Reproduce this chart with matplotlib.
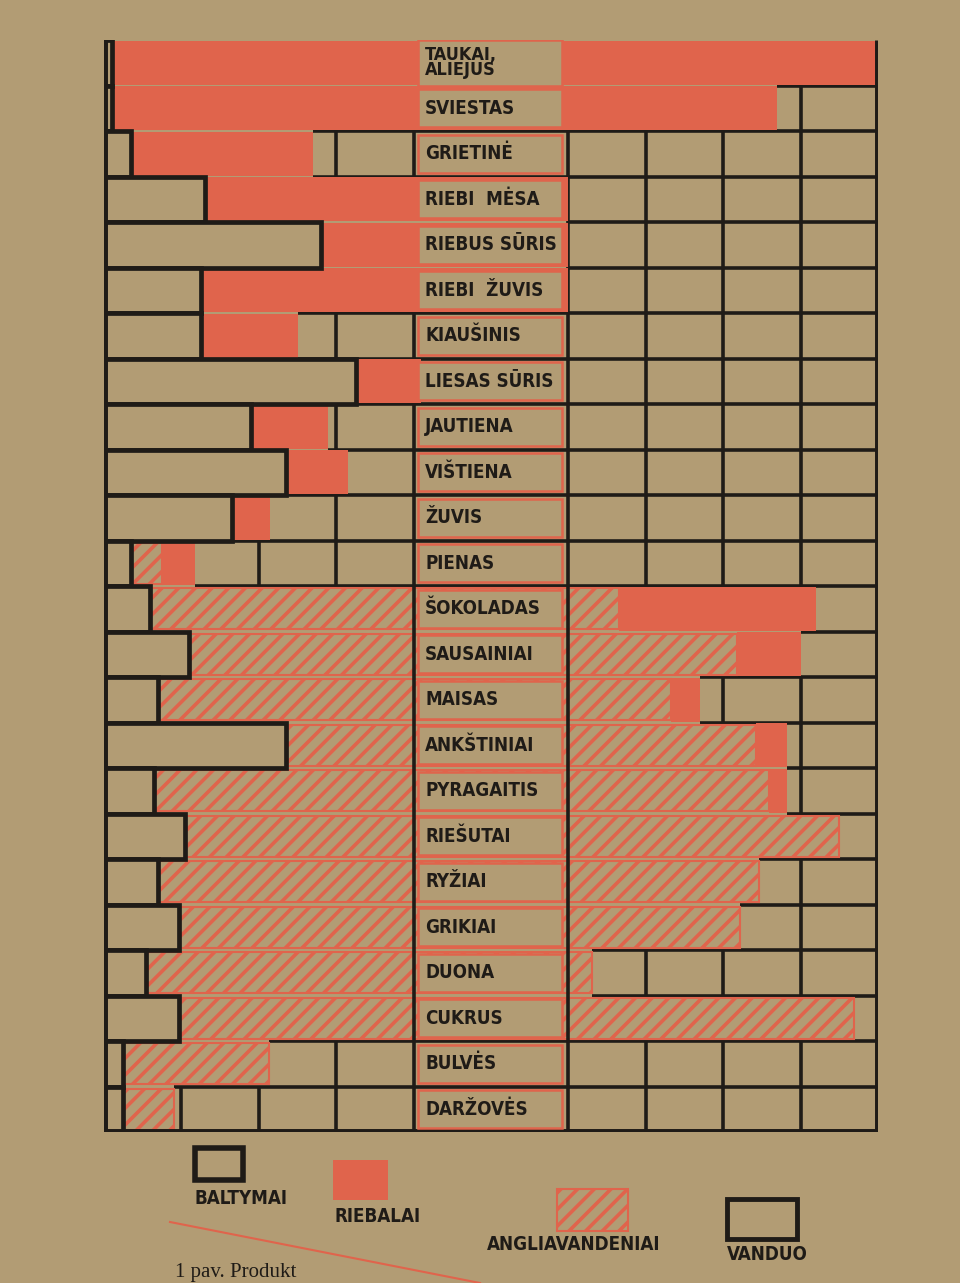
import numpy as np
import matplotlib.pyplot as plt
from matplotlib import font_manager
from matplotlib.patches import Rectangle
from matplotlib.lines import Line2D

# composition of foods, %
foods = ['TAUKAI,\nALIEJUS', 'SVIESTAS', 'GRIETINĖ', 'RIEBI  MĖSA', 'RIEBUS SŪRIS',
         'RIEBI  ŽUVIS', 'KIAUŠINIS', 'LIESAS SŪRIS', 'JAUTIENA', 'VIŠTIENA', 'ŽUVIS',
         'PIENAS', 'ŠOKOLADAS', 'SAUSAINIAI', 'MAISAS', 'ANKŠTINIAI', 'PYRAGAITIS',
         'RIEŠUTAI', 'RYŽIAI', 'GRIKIAI', 'DUONA', 'CUKRUS', 'BULVĖS', 'DARŽOVĖS']
protein = [1, 1, 3.5, 13, 28, 12.5, 12.5, 32.5, 19, 23.5, 16.5, 3.5,
           6, 11, 7, 23.5, 6.5, 10.5, 7, 9.7, 5.4, 9.7, 2.5, 2.5]
carbs = [0, 0, 0, 0, 0, 0, 0, 0, 0, 0, 0, 4,
         60.6, 70.8, 66.3, 60.8, 79.4, 84.5, 77.6, 72.5, 57.6, 87.2, 18.8, 6.5]
fat = [99, 86, 23.5, 47, 32, 47.5, 12.5, 8.5, 10, 8, 5, 4.2,
       25.4, 8.2, 3.7, 3.9, 2.3, 0, 0, 0, 0, 0, 0, 0]
water = [0, 13, 73, 40, 40, 40, 75, 59, 71, 68.5, 78.5, 88.3,
         8, 10, 23, 11.8, 11.8, 5, 15.4, 17.8, 37, 3.1, 78.7, 91]
legend_names = ['BALTYMAI', 'RIEBALAI', 'ANGLIAVANDENIAI', 'VANDUO']
grid_x = [10, 20, 30, 40, 60, 70, 80, 90]

PAPER = '#b29c74'
RED = '#e0644c'
INK = '#1f1b17'

fonts = font_manager.fontManager.ttflist
names = {f.name for f in fonts}
if 'Liberation Sans Narrow' in names:
    label_font = dict(family='Liberation Sans Narrow', fontsize=15)
elif any(f.name == 'DejaVu Sans' and f.stretch == 'condensed' for f in fonts):
    label_font = dict(family='DejaVu Sans', fontstretch='condensed', fontsize=13.5)
else:
    label_font = dict(family='Liberation Sans', fontsize=12.5)

plt.rcParams['hatch.linewidth'] = 2.6


def px(x, y):
    return x / 960, 1 - y / 1283


def draw_chart(ax):
    p = np.array(protein)
    c = np.array(carbs)
    f = np.array(fat)
    filled = 100 - np.array(water)
    y = np.arange(len(foods))

    ax.set_xlim(0, 100)
    ax.set_ylim(len(foods) - 0.5, -0.5)
    ax.axis('off')

    # water = the empty grid cells; 40 and 60 also cross the hatched bars
    for i in y:
        for gx in grid_x:
            in_fat = p[i] + c[i] < gx < filled[i]
            if gx > filled[i] or (gx in (40, 60) and not in_fat):
                ax.vlines(gx, i - 0.5, i + 0.5, color=INK, lw=2.6,
                          zorder=1 if gx > filled[i] else 2.5)
    for i in range(len(foods) - 1):
        ax.hlines(i + 0.5, min(filled[i], filled[i + 1]), 100, color=INK, lw=2.6, zorder=1)

    has_c = c > 0
    ax.barh(y[has_c], c[has_c], left=p[has_c], height=0.9, color=PAPER,
            edgecolor=RED, hatch='//', lw=1.5, zorder=2)
    has_f = f > 0
    ax.barh(y[has_f], f[has_f], left=(p + c)[has_f], height=0.96, color=RED,
            lw=0, zorder=3)
    ax.barh(y, p, height=1.0, color=PAPER, edgecolor=INK, lw=3.4, zorder=4)

    # frame
    ax.vlines([0, 100], -0.5, len(foods) - 0.5, color=INK, lw=5, zorder=6)
    ax.hlines(len(foods) - 0.5, 0, 100, color=INK, lw=5, zorder=6)

    # name boxes in the middle column
    for i, name in enumerate(foods):
        two = '\n' in name
        h = 1.0 if two else 0.84
        ax.add_patch(Rectangle((40.6, i - h / 2), 18.6, h, facecolor=PAPER,
                               edgecolor=RED, lw=1.8, zorder=7))
        fs = label_font['fontsize'] - (0.5 if two else 0)
        ax.text(41.5, i, name, ha='left', va='center', fontweight='bold', color=INK,
                linespacing=0.82, zorder=8,
                **{**label_font, 'fontsize': fs})


def draw_legend(fig):
    boxes = [(195, 1148, 48, 32), (333, 1160, 55, 40), (557, 1189, 71, 42), (727, 1199, 70, 40)]
    texts = [(195, 1198), (335, 1216), (487, 1244), (727, 1254)]
    styles = [dict(facecolor=PAPER, edgecolor=INK, lw=4),
              dict(facecolor=RED, edgecolor=RED, lw=0),
              dict(facecolor=PAPER, edgecolor=RED, hatch='//', lw=1.5),
              dict(facecolor=PAPER, edgecolor=INK, lw=3.5)]
    for name, (bx, by, bw, bh), (tx, ty), st in zip(legend_names, boxes, texts, styles):
        x0, y0 = px(bx, by + bh)
        fig.add_artist(Rectangle((x0, y0), bw / 960, bh / 1283,
                                 transform=fig.transFigure, **st))
        fig.text(*px(tx, ty), name, ha='left', va='center', fontweight='bold', color=INK,
                 **label_font)

    fig.add_artist(Line2D([170 / 960, 480 / 960], [1 - 1222 / 1283, 1 - 1283 / 1283],
                          transform=fig.transFigure, color=RED, lw=1.5))
    fig.text(*px(175, 1272), '1 pav. Produkt', ha='left', va='center',
             family='Liberation Serif', fontsize=15, color=INK)


fig = plt.figure(figsize=(9.6, 12.83), dpi=100, facecolor=PAPER)
ax = fig.add_axes([104 / 960, 1 - 1132 / 1283, 774 / 960, 1092 / 1283])
ax.set_facecolor(PAPER)
draw_chart(ax)
draw_legend(fig)
fig.savefig('out.png', dpi=100, facecolor=PAPER)
